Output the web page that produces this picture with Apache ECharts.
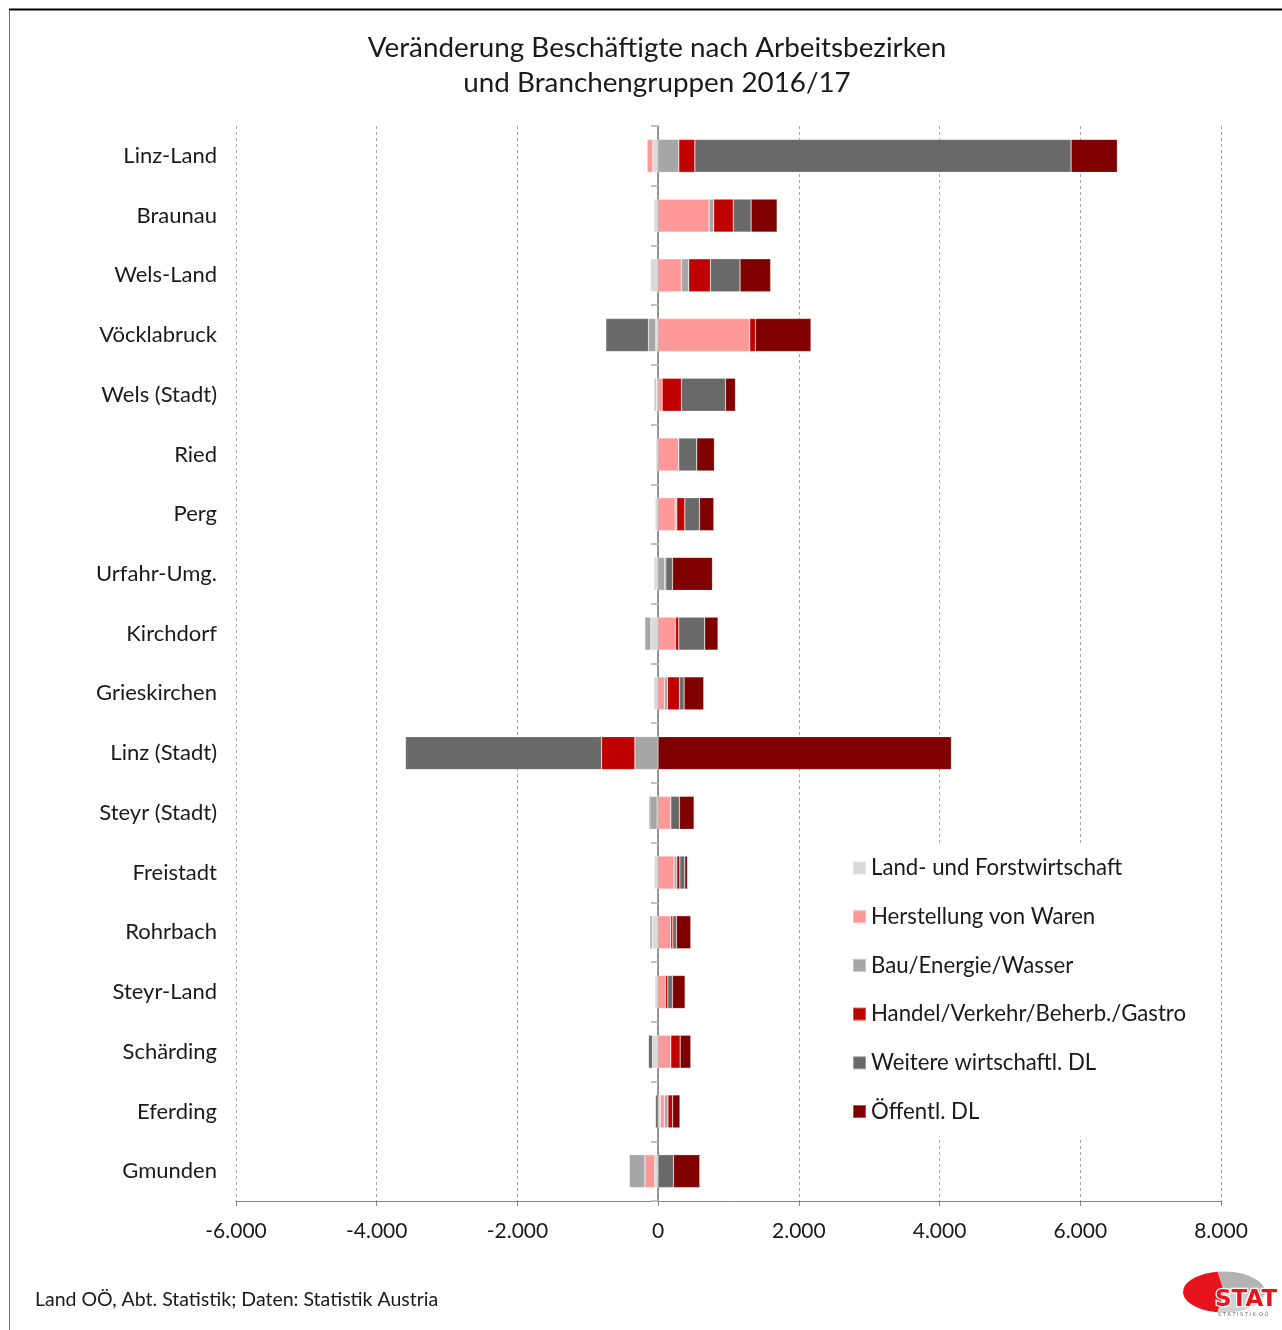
<!DOCTYPE html>
<html>
<head>
<meta charset="utf-8">
<title>Veränderung Beschäftigte nach Arbeitsbezirken</title>
<script src="https://cdn.jsdelivr.net/npm/echarts@6/dist/echarts.min.js"></script>
<style>
  html, body { margin: 0; padding: 0; background: #fff; }
  #chart { width: 1282px; height: 1330px; }
</style>
</head>
<body>
<div id="chart"></div>
<script>
// Districts, top to bottom
const districts = ['Linz-Land', 'Braunau', 'Wels-Land', 'Vöcklabruck', 'Wels (Stadt)', 'Ried', 'Perg',
  'Urfahr-Umg.', 'Kirchdorf', 'Grieskirchen', 'Linz (Stadt)', 'Steyr (Stadt)', 'Freistadt', 'Rohrbach',
  'Steyr-Land', 'Schärding', 'Eferding', 'Gmunden'];

// Change in employees per sector group
const landForst  = [-76, -61, -109, -33, -30, -33, -43, -62, -104, -62, 0, -14, -57, -85, -47, -80, 30, -47];
const herstellung = [-81, 724, 331, 1302, 57, 293, 241, 0, 246, 90, 0, 180, 227, 180, 104, 180, 60, -142];
const bauEnergie = [294, 66, 104, -104, -25, 0, 24, 95, -85, 43, -331, -104, 38, -33, 0, 0, 50, -222];
const handel     = [228, 278, 308, 80, 275, 0, 114, 14, 47, 170, -472, -14, 43, 28, 33, 133, 66, 0];
const weitereDL  = [5347, 253, 421, -606, 625, 256, 208, 95, 369, 66, -2788, 123, 71, 52, 66, -57, -38, 218];
const oeffentlDL = [658, 370, 435, 790, 142, 251, 204, 568, 189, 279, 4168, 208, 38, 204, 180, 151, 104, 374];

const seriesNames = ['Land- und Forstwirtschaft', 'Herstellung von Waren', 'Bau/Energie/Wasser',
  'Handel/Verkehr/Beherb./Gastro', 'Weitere wirtschaftl. DL', 'Öffentl. DL'];
const seriesData = [landForst, herstellung, bauEnergie, handel, weitereDL, oeffentlDL];
const colors = ['#d9d9d9', '#ff9999', '#a6a6a6', '#c00000', '#696969', '#800000'];

const FONT = 'Lato, "Open Sans", sans-serif';
const TXT = '#1a1a1a';

function fmtThousands(v) {
  const s = String(Math.abs(v)).replace(/\B(?=(\d{3})+(?!\d))/g, '.');
  return (v < 0 ? '-' : '') + s;
}

const chart = echarts.init(document.getElementById('chart'), null, { renderer: 'canvas' });

chart.setOption({
  backgroundColor: '#fff',
  animation: false,
  textStyle: { fontFamily: FONT },
  color: colors,
  title: {
    text: 'Veränderung Beschäftigte nach Arbeitsbezirken\nund Branchengruppen 2016/17',
    left: 652,
    top: 26,
    textAlign: 'center',
    textStyle: { fontFamily: FONT, fontSize: 27.8, fontWeight: 'normal', color: TXT, lineHeight: 35 }
  },
  legend: {
    orient: 'vertical',
    left: 844,
    top: 845,
    padding: [12, 14, 14, 8],
    backgroundColor: '#fff',
    itemGap: 26.7,
    itemWidth: 13,
    itemHeight: 13,
    icon: 'rect',
    data: seriesNames,
    textStyle: { fontFamily: FONT, fontSize: 22.2, color: TXT, padding: [0, 0, 0, 0] }
  },
  grid: { left: 236, right: 61, top: 126, bottom: 129, containLabel: false },
  xAxis: {
    type: 'value',
    min: -6000,
    max: 8000,
    interval: 2000,
    axisLine: { show: true, onZero: false, lineStyle: { color: '#868686', width: 1 } },
    axisTick: { show: true, length: 5, lineStyle: { color: '#868686' } },
    axisLabel: { margin: 20, fontSize: 21, color: TXT, fontFamily: FONT, formatter: fmtThousands },
    splitLine: { show: true, lineStyle: { color: '#a6a6a6', type: [3, 3], width: 1 } }
  },
  yAxis: [
    {
      type: 'category',
      data: districts,
      inverse: true,
      position: 'left',
      axisLine: { show: false, onZero: false },
      axisTick: { show: false },
      axisLabel: { margin: 19, fontSize: 22, color: TXT, fontFamily: FONT }
    },
    {
      type: 'category',
      data: districts,
      inverse: true,
      position: 'left',
      axisLine: { show: true, onZero: true, lineStyle: { color: '#7a7a7a', width: 1.5 } },
      axisTick: { show: true, length: 7, lineStyle: { color: '#bfbfbf', width: 2 } },
      axisLabel: { show: false },
      splitLine: { show: false }
    }
  ],
  series: seriesData.map((d, i) => ({
    name: seriesNames[i],
    type: 'bar',
    stack: 'total',
    yAxisIndex: 0,
    barWidth: 33,
    data: d,
    itemStyle: { color: colors[i], borderColor: 'rgba(255,255,255,0.35)', borderWidth: 0.6 }
  })),
  graphic: [
    // frame
    { type: 'line', shape: { x1: 9, y1: 9.5, x2: 1282, y2: 9.5 }, style: { stroke: '#000', lineWidth: 2 } },
    { type: 'line', shape: { x1: 9.5, y1: 10, x2: 9.5, y2: 1330 }, style: { stroke: '#6e6e6e', lineWidth: 1 } },
    // source note
    {
      type: 'text', left: 35, top: 1290,
      style: { text: 'Land OÖ, Abt. Statistik; Daten: Statistik Austria', fontFamily: FONT, fontSize: 19.5, fill: TXT }
    },
    // logo
    {
      type: 'group', x: 1224, y: 1292,
      children: [
        { type: 'sector', scaleY: 0.5, shape: { cx: 0, cy: 0, r0: 0, r: 41, startAngle: Math.PI * 1.45, endAngle: Math.PI * 2.05 },
          style: { fill: '#b3b3b3' } },
        { type: 'sector', scaleY: 0.5, shape: { cx: 0, cy: 0, r0: 0, r: 41, startAngle: Math.PI * 0.55, endAngle: Math.PI * 1.45 },
          style: { fill: '#e8141d' } },
        { type: 'sector', scaleY: 0.5, shape: { cx: 0, cy: 0, r0: 0, r: 41, startAngle: Math.PI * 0.05, endAngle: Math.PI * 0.55 },
          style: { fill: '#d0d0d0' } },
        { type: 'text', x: -9, y: 8,
          style: { text: 'STAT', fontFamily: '"DejaVu Sans", sans-serif', fontWeight: 'bold', fontSize: 23,
                   fill: '#e8141d', stroke: '#fff', lineWidth: 2.5, textVerticalAlign: 'middle' } },
        { type: 'text', x: -6, y: 23,
          style: { text: 'S T A T I S T I K  O Ö', fontFamily: '"DejaVu Sans", sans-serif', fontSize: 5,
                   fill: '#666', textVerticalAlign: 'middle' } }
      ]
    }
  ]
});
</script>
</body>
</html>
